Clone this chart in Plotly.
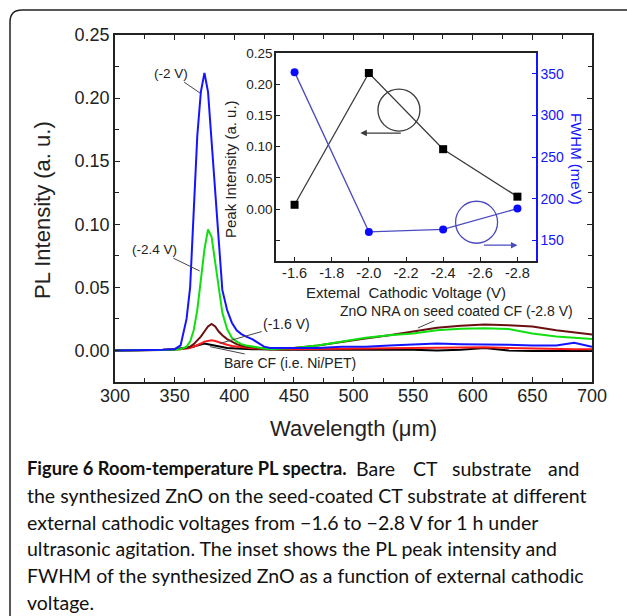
import plotly.graph_objects as go

W, H = 627, 616

# ---------------- data ----------------
wavelength = [300, 320, 340, 350, 355, 360, 363, 366, 369, 372, 375, 378, 381, 384, 387, 390,
              394, 398, 402, 406, 410, 415, 420, 425, 430, 440, 450, 470, 490, 510, 530, 550,
              570, 590, 610, 630, 650, 670, 685, 700]

pl_m2_0 = [0, 0, 0.0005, 0.001, 0.004, 0.025, 0.05, 0.11, 0.17, 0.205, 0.22, 0.205, 0.165, 0.12,
           0.08, 0.048, 0.032, 0.022, 0.016, 0.013, 0.011, 0.009, 0.006, 0.003, 0.002, 0.002,
           0.002, 0.002, 0.003, 0.003, 0.004, 0.005, 0.0055, 0.005, 0.005, 0.0045, 0.004, 0.004,
           0.006, 0.003]
pl_m2_4 = [0, 0, 0, 0.0005, 0.001, 0.003, 0.007, 0.016, 0.032, 0.055, 0.08, 0.096, 0.09, 0.07,
           0.048, 0.03, 0.017, 0.01, 0.007, 0.005, 0.004, 0.003, 0.002, 0.0015, 0.001, 0.0015,
           0.002, 0.004, 0.007, 0.01, 0.012, 0.0135, 0.016, 0.0172, 0.0175, 0.017, 0.0135, 0.011,
           0.01, 0.009]
pl_m2_8 = [0, 0, 0.0005, 0.001, 0.0015, 0.002, 0.003, 0.005, 0.008, 0.011, 0.015, 0.019, 0.021,
           0.019, 0.015, 0.012, 0.009, 0.007, 0.005, 0.004, 0.003, 0.0025, 0.002, 0.0015, 0.001,
           0.0015, 0.002, 0.004, 0.007, 0.0095, 0.012, 0.015, 0.018, 0.0195, 0.0205, 0.02, 0.019,
           0.016, 0.0145, 0.0127]
pl_m1_6 = [0, 0, 0, 0.0005, 0.001, 0.0015, 0.002, 0.003, 0.004, 0.0055, 0.007, 0.0078, 0.008,
           0.0075, 0.0065, 0.0055, 0.0045, 0.0035, 0.003, 0.0025, 0.002, 0.0018, 0.0015, 0.0012,
           0.001, 0.001, 0.001, 0.001, 0.0012, 0.0015, 0.0018, 0.002, 0.002, 0.002, 0.0025, 0.002,
           0.0015, 0.0015, 0.001, 0.001]
pl_bare = [0, 0, 0.0003, 0.001, 0.0015, 0.002, 0.0025, 0.003, 0.004, 0.005, 0.0055, 0.005, 0.0045,
           0.0038, 0.003, 0.0025, 0.002, 0.0018, 0.0015, 0.0013, 0.0012, 0.001, 0.001, 0.0008,
           0.0005, 0.0005, 0.0005, 0.0005, 0.0005, 0.0008, 0.001, 0.0005, 0.0, 0.0005, 0.002, 0.0,
           -0.0005, -0.0005, -0.0005, -0.0005]

voltage = [-1.6, -2.0, -2.4, -2.8]
peak_intensity = [0.007, 0.218, 0.096, 0.020]
fwhm = [352, 160, 163, 188]

x_ticks = [300, 350, 400, 450, 500, 550, 600, 650, 700]
y_ticks = [0.0, 0.05, 0.10, 0.15, 0.20, 0.25]
y_ticklabels = ["0.00", "0.05", "0.10", "0.15", "0.20", "0.25"]
v_ticks = [-1.6, -1.8, -2.0, -2.2, -2.4, -2.6, -2.8]
v_ticklabels = ["-1.6", "-1.8", "-2.0", "-2.2", "-2.4", "-2.6", "-2.8"]
pk_ticks = [-0.05, 0.0, 0.05, 0.10, 0.15, 0.20, 0.25]
pk_ticklabels = ["", "0.00", "0.05", "0.10", "0.15", "0.20", "0.25"]
fw_ticks = [150, 200, 250, 300, 350]

caption_head_bold = "Figure 6 Room-temperature PL spectra."
caption_head_words = ["Bare", "CT", "substrate", "and"]
caption_lines = [
    "the synthesized ZnO on the seed-coated CT substrate at different",
    "external cathodic voltages from \u22121.6 to \u22122.8 V for 1 h under",
    "ultrasonic agitation. The inset shows the PL peak intensity and",
    "FWHM of the synthesized ZnO as a function of external cathodic",
    "voltage.",
]


def px(x):
    return x / W


def py(y):
    return 1 - y / H


FONT = "Liberation Sans, Arial, sans-serif"
CAPFONT = "Lato, Open Sans, sans-serif"
TXT = "#222222"
BLUE = "#1414ff"

fig = go.Figure()

curves = [
    (pl_bare, "#000000"),
    (pl_m1_6, "#ff1a1a"),
    (pl_m2_8, "#6a1010"),
    (pl_m2_4, "#10e010"),
    (pl_m2_0, BLUE),
]
for ys, col in curves:
    fig.add_trace(go.Scatter(x=wavelength, y=ys, mode="lines", line=dict(color=col, width=2),
                             xaxis="x", yaxis="y", showlegend=False, hoverinfo="skip"))

fig.add_trace(go.Scatter(x=voltage, y=peak_intensity, mode="lines+markers",
                         line=dict(color="#3a3a3a", width=1.3),
                         marker=dict(symbol="square", size=8, color="#000000"),
                         xaxis="x2", yaxis="y2", showlegend=False))
fig.add_trace(go.Scatter(x=voltage, y=fwhm, mode="lines+markers",
                         line=dict(color="#4b4bc0", width=1.3),
                         marker=dict(symbol="circle", size=8, color="#0a0aff"),
                         xaxis="x2", yaxis="y3", showlegend=False))

axis_common = dict(showgrid=False, zeroline=False, showline=True, linecolor=TXT, linewidth=1.5,
                   ticks="inside", tickcolor=TXT, tickwidth=1.2, automargin=False)

fig.update_layout(
    template="none",
    width=W, height=H, autosize=False,
    margin=dict(l=0, r=0, t=0, b=0, pad=0),
    paper_bgcolor="white", plot_bgcolor="white",
    font=dict(family=FONT, color=TXT),
    xaxis=dict(domain=[px(115), px(592)], range=[300, 700], anchor="y",
               tickvals=x_ticks, ticklen=5, mirror="ticks", ticklabelstandoff=-3,
               minor=dict(ticks="inside", ticklen=4, dtick=25, tick0=300, tickcolor=TXT),
               tickfont=dict(size=18, color=TXT), **axis_common),
    yaxis=dict(domain=[py(382), py(35)], range=[-0.025, 0.25], anchor="x",
               tickvals=y_ticks, ticktext=y_ticklabels, ticklen=5, mirror="ticks",
               ticklabelstandoff=0,
               minor=dict(ticks="inside", ticklen=4, dtick=0.025, tick0=0, tickcolor=TXT),
               tickfont=dict(size=18, color=TXT), **axis_common),
    xaxis2=dict(domain=[px(276), px(536)], range=[-1.5, -2.9], anchor="y2",
                tickvals=v_ticks, ticktext=v_ticklabels, ticklen=4, mirror=True,
                ticklabelstandoff=-2,
                tickfont=dict(size=14.5, color=TXT), **axis_common),
    yaxis2=dict(domain=[py(261), py(53)], range=[-0.083, 0.25], anchor="x2",
                tickvals=pk_ticks, ticktext=pk_ticklabels, ticklen=4, mirror=False,
                ticklabelstandoff=-1,
                tickfont=dict(size=13.5, color=TXT), **axis_common),
    yaxis3=dict(overlaying="y2", side="right", anchor="x2", range=[125, 375],
                tickvals=fw_ticks, showgrid=False, zeroline=False, showline=True,
                linecolor=BLUE, linewidth=1.5, ticks="inside", tickcolor=BLUE, ticklen=4,
                automargin=False, tickfont=dict(size=14, color=BLUE)),
)

shapes = []
# rounded frame
r = 12
shapes.append(dict(type="path", xref="paper", yref="paper",
                   path=f"M {px(10)},{py(620)} L {px(10)},{py(10 + r)} Q {px(10)},{py(10)} {px(10 + r)},{py(10)} L {px(630)},{py(10)}",
                   line=dict(color="#222222", width=1.5)))
# inset circles
shapes.append(dict(type="circle", xref="x2", yref="y2", xsizemode="pixel", ysizemode="pixel",
                   xanchor=-2.162, yanchor=0.1587, x0=-21, x1=21, y0=-21, y1=21,
                   line=dict(color="#3a3a3a", width=1.3)))
shapes.append(dict(type="circle", xref="x2", yref="y3", xsizemode="pixel", ysizemode="pixel",
                   xanchor=-2.58, yanchor=171.6, x0=-21, x1=21, y0=-21, y1=21,
                   line=dict(color="#4b4bc0", width=1.3)))
fig.update_layout(shapes=shapes)

ann = []


def label(text, tip_x, tip_y, txt_x, txt_y, size=14):
    ann.append(dict(text=text, x=tip_x, y=tip_y, xref="x", yref="y", ax=txt_x, ay=txt_y,
                    axref="x", ayref="y", showarrow=True, arrowhead=0, arrowwidth=1,
                    arrowcolor="#444444", font=dict(size=size, color=TXT), standoff=0))


label("(-2 V)", 371.3, 0.204, 347, 0.2198, 13.5)
label("(-2.4 V)", 371, 0.063, 333.5, 0.0802, 13.5)
label("(-1.6 V)", 388, 0.0056, 444, 0.0206, 14)
label("Bare CF (i.e. Ni/PET)", 379.7, 0.003, 446.7, -0.0103, 14)
label("ZnO NRA on seed coated CF (-2.8 V)", 554, 0.0178, 586, 0.031, 14)

# inset arrows
ann.append(dict(text="", x=-1.954, y=0.1218, xref="x2", yref="y2", ax=42, ay=0,
                showarrow=True, arrowhead=2, arrowsize=1, arrowwidth=1.3, arrowcolor="#3a3a3a"))
ann.append(dict(text="", x=-2.8, y=144, xref="x2", yref="y3", ax=-35, ay=0,
                showarrow=True, arrowhead=2, arrowsize=1, arrowwidth=1.3, arrowcolor="#4b4bc0"))


def ptext(text, x, y, size, color=TXT, angle=0, xanchor="center", family=None):
    f = dict(size=size, color=color)
    if family:
        f["family"] = family
    ann.append(dict(text=text, x=px(x), y=py(y), xref="paper", yref="paper",
                    xanchor=xanchor, yanchor="middle", showarrow=False, textangle=angle,
                    font=f))


# axis titles
ptext("Wavelength (\u03bcm)", 354, 428, 22)
ptext("PL Intensity (a. u.)", 43, 210, 22, angle=-90)
ptext("Extemal  Cathodic Voltage (V)", 406, 292, 15)
ptext("Peak Intensity (a. u.)", 230, 169, 15, angle=-90)
ptext("FWHM (meV)", 577, 159, 15, color=BLUE, angle=90)

# caption (first line justified: bold head, then spread words)
CAP = "#111111"
ptext("<b>" + caption_head_bold + "</b>", 25, 468, 18.3, color=CAP, xanchor="left",
      family=CAPFONT)
word_x = [354, 411, 450, 582]
for i, (wd, wx) in enumerate(zip(caption_head_words, word_x)):
    ptext(wd, wx, 468, 19.5, color=CAP,
          xanchor="right" if i == len(caption_head_words) - 1 else "left", family=CAPFONT)
cap_y = [495, 522, 548, 575, 602]
for line, yy in zip(caption_lines, cap_y):
    ptext(line, 25, yy, 19.5, color=CAP, xanchor="left", family=CAPFONT)

fig.update_layout(annotations=ann)

fig.write_html("out.html", config={"responsive": False, "displayModeBar": False},
               post_script="document.body.style.margin='0';document.body.style.overflow='hidden';")
